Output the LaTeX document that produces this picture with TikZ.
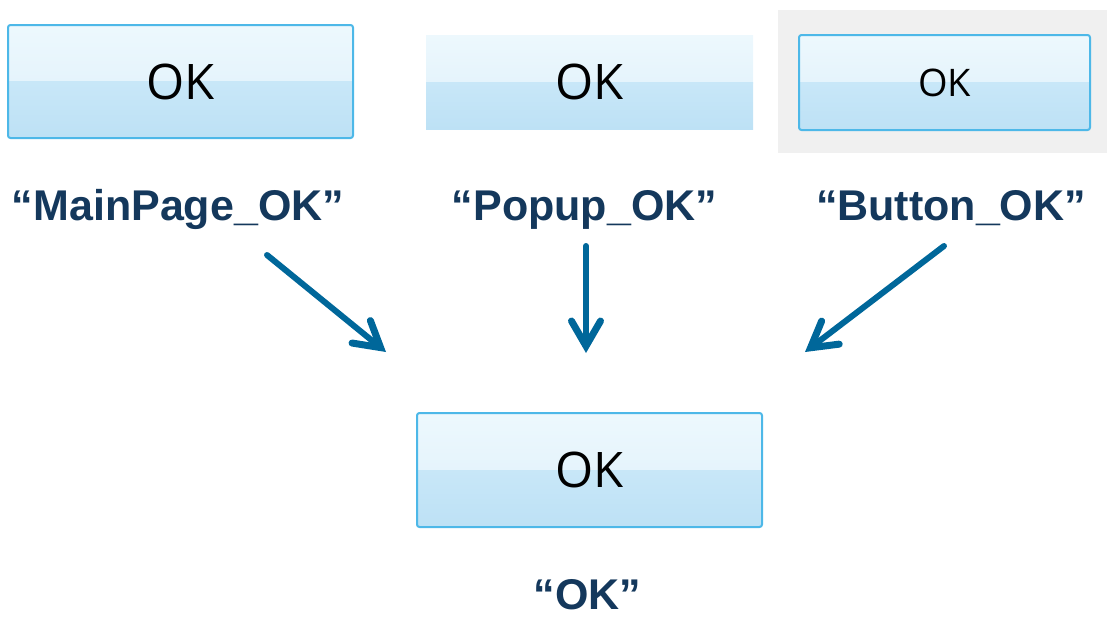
\documentclass[tikz,border=0pt]{standalone}
\usepackage{fontspec}
\setmainfont{Liberation Sans}
\newfontfamily\uifont{Open Sans}
\usetikzlibrary{arrows.meta}

\definecolor{btnTopA}{HTML}{EDF8FD}
\definecolor{btnTopB}{HTML}{DDF0FB}
\definecolor{btnBotA}{HTML}{C8E7F8}
\definecolor{btnBotB}{HTML}{BDE1F5}
\definecolor{btnBorder}{HTML}{4DB8E8}
\definecolor{panelGray}{HTML}{F0F0F0}
\definecolor{keyText}{HTML}{14385C}
\definecolor{arrowBlue}{HTML}{00679A}

\tikzset{
  x=1pt, y=1pt,
  btnfill/.style={
    path picture={
      \fill[sharp corners, top color=btnTopA, bottom color=btnTopB]
        ([yshift=-1pt]path picture bounding box.east) rectangle (path picture bounding box.north west);
      \fill[sharp corners, top color=btnBotA, bottom color=btnBotB]
        (path picture bounding box.west) rectangle (path picture bounding box.south east);
    }},
  okbtn/.style={btnfill, draw=btnBorder, line width=2pt, rounded corners=2.5pt,
    inner sep=0pt, text depth=-3pt, font=\uifont\fontsize{49}{49}\selectfont},
  flatbtn/.style={btnfill, inner sep=0pt, text depth=-3pt,
    font=\uifont\fontsize{49}{49}\selectfont},
  keylabel/.style={anchor=base, text=keyText, inner sep=1pt,
    font=\bfseries\fontsize{43}{43}\selectfont},
  maparrow/.style={draw=arrowBlue, line width=6pt, line cap=round,
    -{Straight Barb[length=25pt, width=29pt, line width=7pt, line cap=round, line join=miter]}},
}

\begin{document}
\begin{tikzpicture}
\useasboundingbox (0,0) rectangle (1107,-616);

% grey panel behind the third button
\fill[panelGray] (778,-10) rectangle (1107,-153);

% source buttons
\node[okbtn, minimum width=345pt, minimum height=113pt] (mainbtn) at (180.5,-81.5) {OK};
\node[flatbtn, minimum width=327pt, minimum height=94pt] (popupbtn) at (589.5,-82) {OK};
\node[okbtn, minimum width=291pt, minimum height=95pt,
      font=\uifont\fontsize{38}{38}\selectfont] (plainbtn) at (944.5,-82.5) {OK};

% resource keys
\node[keylabel] (mainkey) at (178,-220) {“MainPage\_OK”};
\node[keylabel] (popupkey) at (584.5,-220) {“Popup\_OK”};
\node[keylabel] (plainkey) at (951,-220) {“Button\_OK”};

% shared button and its key
\node[okbtn, minimum width=345pt, minimum height=114pt] (sharedbtn) at (589.5,-470) {OK};
\node[keylabel, text depth=0pt] (sharedkey) at (587.5,-609) {“OK”};

% arrows into the shared key
\coordinate (t1) at (267,-255);
\coordinate (h1) at (386,-352);
\coordinate (t2) at (586,-246);
\coordinate (h2) at (586,-353);
\coordinate (t3) at (944,-246);
\coordinate (h3) at (805,-352);
\draw[maparrow] (t1) -- (h1);
\draw[maparrow] (t2) -- (h2);
\draw[maparrow] (t3) -- (h3);
\end{tikzpicture}
\end{document}
